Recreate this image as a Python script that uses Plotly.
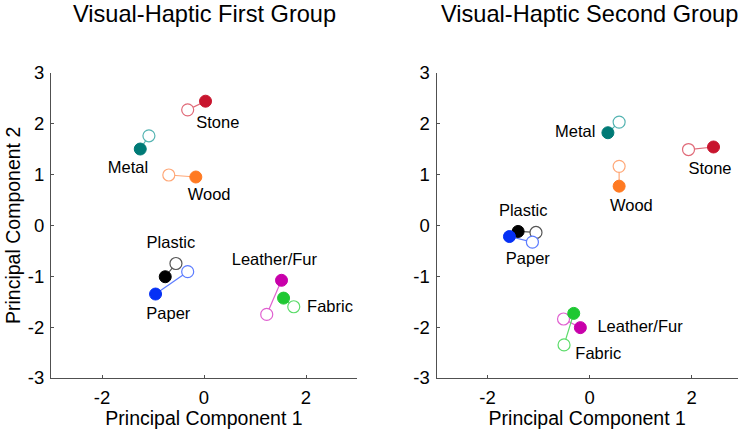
import plotly.graph_objects as go

materials = ["Stone", "Metal", "Wood", "Plastic", "Paper", "Leather/Fur", "Fabric"]
dark_colors = ["#C8152E", "#007A76", "#FF7A22", "#000000", "#0530F5", "#C800AA", "#1EC832"]
light_colors = ["#E06A78", "#55B4B2", "#FFA878", "#555555", "#5C7CFF", "#E060D0", "#5CDC6A"]

# Visual-Haptic First Group: filled (first) and open (second) points
g1_filled_x = [0.03, -1.25, -0.16, -0.76, -0.95, 1.52, 1.56]
g1_filled_y = [2.44, 1.50, 0.95, -1.01, -1.35, -1.08, -1.43]
g1_open_x = [-0.32, -1.08, -0.69, -0.55, -0.32, 1.23, 1.76]
g1_open_y = [2.27, 1.76, 0.99, -0.75, -0.91, -1.75, -1.60]
g1_label_x = [0.27, -1.49, 0.10, -0.65, -0.70, 1.38, 2.47]
g1_label_y = [1.99, 1.10, 0.57, -0.36, -1.76, -0.69, -1.63]

# Visual-Haptic Second Group
g2_filled_x = [2.43, 0.36, 0.58, -1.40, -1.57, -0.18, -0.31]
g2_filled_y = [1.54, 1.82, 0.77, -0.12, -0.22, -2.01, -1.73]
g2_open_x = [1.94, 0.58, 0.58, -1.05, -1.12, -0.51, -0.50]
g2_open_y = [1.49, 2.03, 1.16, -0.14, -0.33, -1.84, -2.35]
g2_label_x = [2.36, -0.28, 0.82, -1.30, -1.21, 0.99, 0.17]
g2_label_y = [1.09, 1.82, 0.37, 0.26, -0.68, -2.01, -2.54]

titles = ["Visual-Haptic First Group", "Visual-Haptic Second Group"]
x_ticks = [-2, 0, 2]
x_ticktext = ["-2", "0", "2"]
y_ticks = [-3, -2, -1, 0, 1, 2, 3]
y_ticktext = ["-3", "-2", "-1", "0", "1", "2", "3"]
x_title = "Principal Component 1"
y_title = "Principal Component 2"

FONT = "Liberation Sans, Arial, sans-serif"
fig = go.Figure()

groups = [
    (g1_filled_x, g1_filled_y, g1_open_x, g1_open_y, g1_label_x, g1_label_y, "x", "y"),
    (g2_filled_x, g2_filled_y, g2_open_x, g2_open_y, g2_label_x, g2_label_y, "x2", "y2"),
]
for fx, fy, ox, oy, lx, ly, xa, ya in groups:
    for i, m in enumerate(materials):
        fig.add_trace(go.Scatter(
            x=[fx[i], ox[i]], y=[fy[i], oy[i]], mode="lines",
            line=dict(color=light_colors[i], width=1.2),
            xaxis=xa, yaxis=ya, showlegend=False, hoverinfo="skip"))
    for i, m in enumerate(materials):
        fig.add_trace(go.Scatter(
            x=[ox[i]], y=[oy[i]], mode="markers",
            marker=dict(size=12, color="white", line=dict(color=light_colors[i], width=1.2)),
            xaxis=xa, yaxis=ya, showlegend=False, name=m))
        fig.add_trace(go.Scatter(
            x=[fx[i]], y=[fy[i]], mode="markers",
            marker=dict(size=12, color=dark_colors[i], line=dict(color=dark_colors[i], width=1)),
            xaxis=xa, yaxis=ya, showlegend=False, name=m))
    fig.add_trace(go.Scatter(
        x=lx, y=ly, mode="text", text=materials, textposition="middle center",
        textfont=dict(family=FONT, size=16.5, color="#000000"),
        xaxis=xa, yaxis=ya, showlegend=False, hoverinfo="skip"))

axis_common = dict(
    showgrid=False, zeroline=False, showline=True, linecolor="#505050", linewidth=1,
    ticks="inside", ticklen=3, tickcolor="#505050", mirror=False, automargin=False,
    tickfont=dict(family=FONT, size=18.5, color="#000000"),
)
title_font = dict(family=FONT, size=19.5, color="#000000")
ytop = (429 - 72.7) / 429
ybot = (429 - 378) / 429
fig.update_layout(
    width=738, height=429,
    margin=dict(l=0, r=0, t=0, b=0, autoexpand=False),
    paper_bgcolor="white", plot_bgcolor="white",
    xaxis=dict(domain=[51 / 738, 357 / 738], range=[-3, 3], tickvals=x_ticks, ticktext=x_ticktext,
               ticklabelstandoff=3,
               title=dict(text=x_title, font=title_font, standoff=0), **axis_common),
    yaxis=dict(domain=[ybot, ytop], range=[-3, 3], tickvals=y_ticks, ticktext=y_ticktext,
               ticklabelstandoff=2,
               title=dict(text=y_title, font=title_font, standoff=2), **axis_common),
    xaxis2=dict(domain=[436.5 / 738, 1.0], range=[-3, 2.91], tickvals=x_ticks, ticktext=x_ticktext,
                anchor="y2", ticklabelstandoff=3,
                title=dict(text=x_title, font=title_font, standoff=0), **axis_common),
    yaxis2=dict(domain=[ybot, ytop], range=[-3, 3], tickvals=y_ticks, ticktext=y_ticktext,
                anchor="x2", ticklabelstandoff=2, **axis_common),
    annotations=[
        dict(text=titles[0], x=204 / 738, y=1 - 14 / 429, xref="paper", yref="paper",
             showarrow=False, xanchor="center", yanchor="middle",
             font=dict(family=FONT, size=23.6, color="#000000")),
        dict(text=titles[1], x=589 / 738, y=1 - 14 / 429, xref="paper", yref="paper",
             showarrow=False, xanchor="center", yanchor="middle",
             font=dict(family=FONT, size=23.6, color="#000000")),
    ],
)

fig.write_html("out.html")
